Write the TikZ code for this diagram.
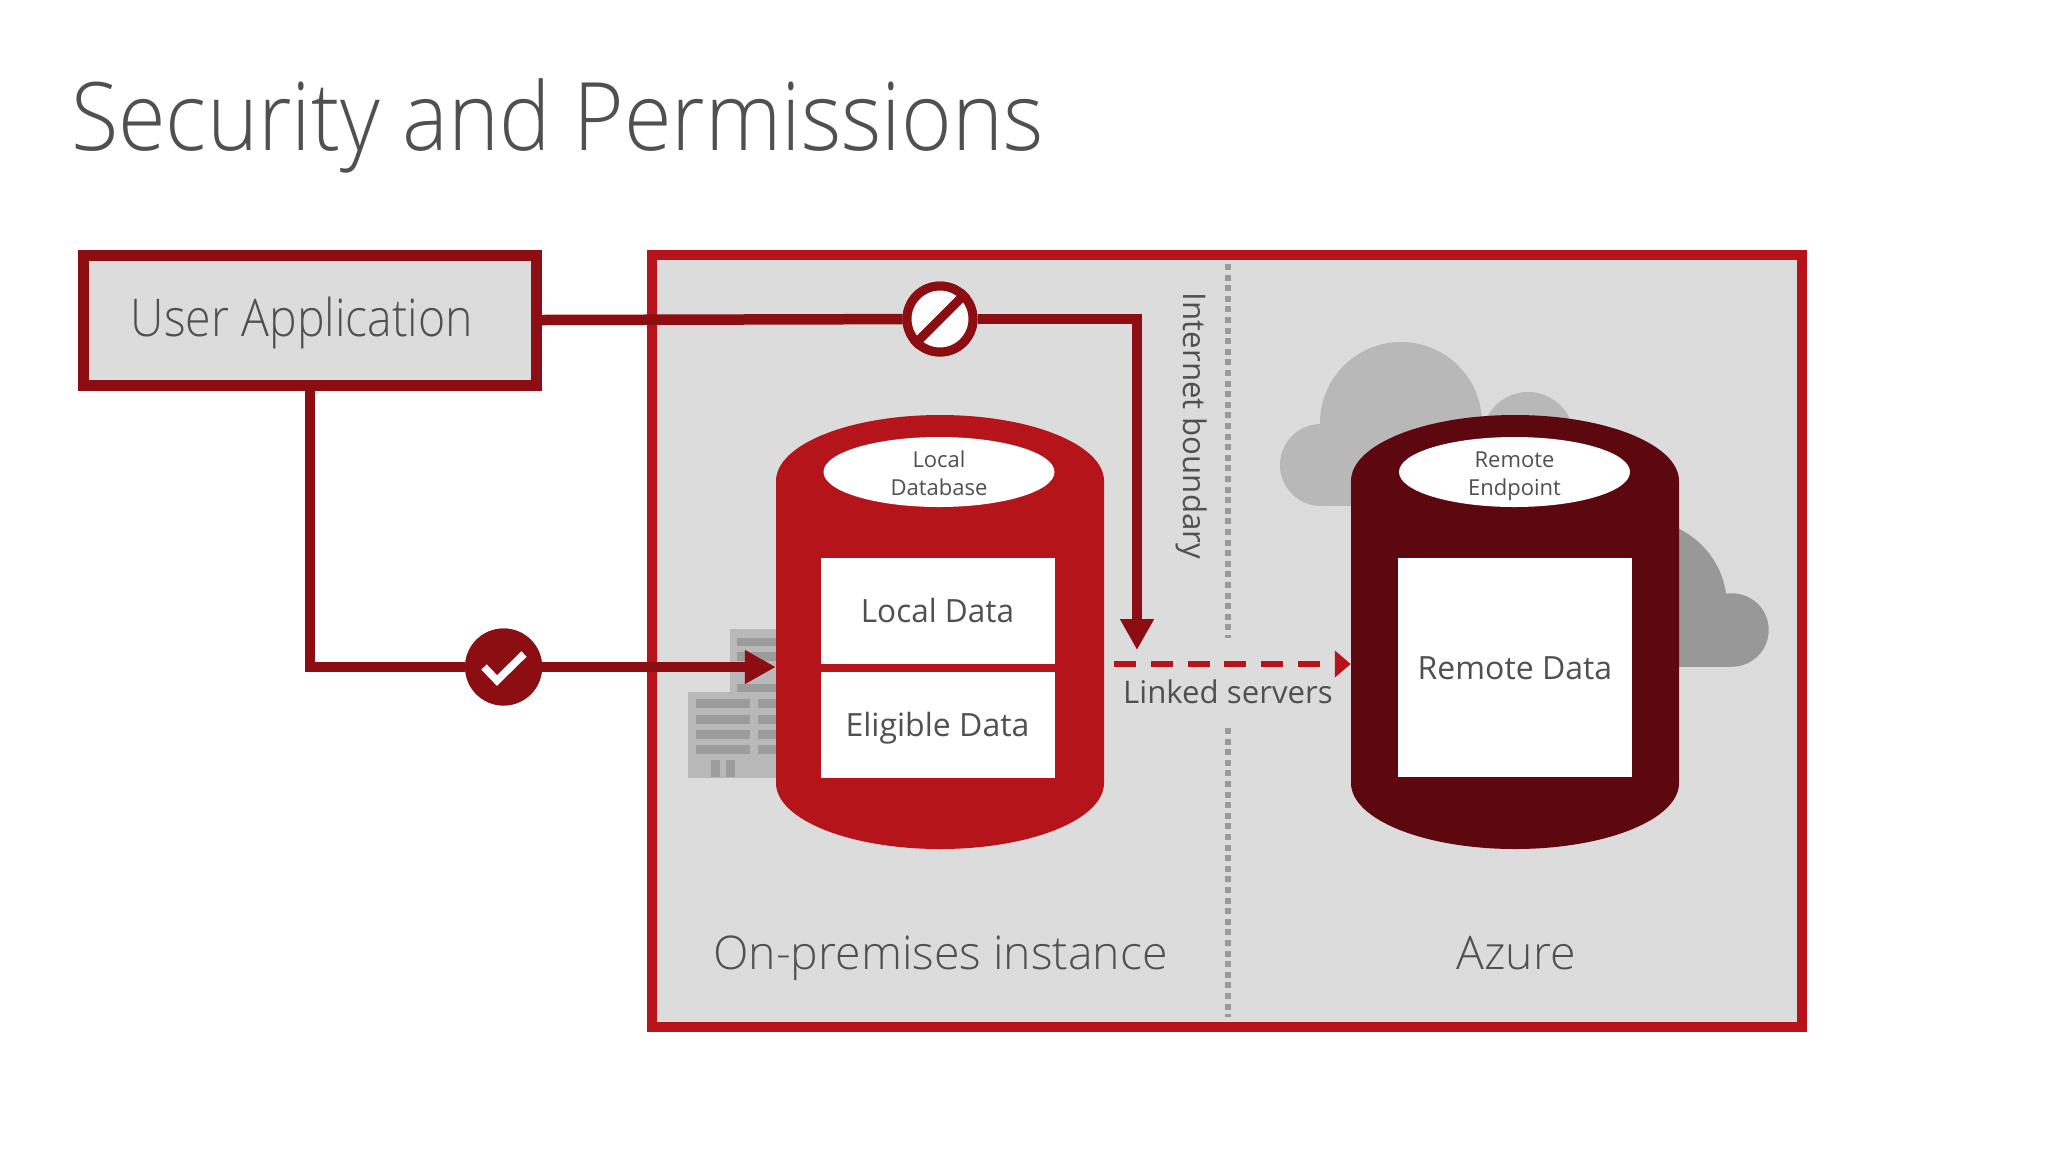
\documentclass[tikz,border=0pt]{standalone}
\usepackage{fontspec}
\setmainfont{Open Sans Light}
\newfontfamily\regf{Open Sans}
\usetikzlibrary{arrows.meta,shapes.geometric}
\definecolor{frame}{HTML}{B8131B}
\definecolor{dkred}{HTML}{8C0E12}
\definecolor{cylone}{HTML}{B5141A}
\definecolor{cyltwo}{HTML}{5C080E}
\definecolor{panel}{HTML}{DDDCDD}
\definecolor{txt}{HTML}{505050}
\definecolor{cloudl}{HTML}{B8B8B8}
\definecolor{cloudd}{HTML}{989898}
\definecolor{bldg}{HTML}{B9B9B9}
\definecolor{bldgw}{HTML}{9C9C9C}
\definecolor{dots}{HTML}{9A9A9A}
\newcommand{\fsz}[1]{\fontsize{#1}{#1}\selectfont}
\tikzset{
  txtbase/.style={inner sep=0pt,text=txt},
  reg/.style={txtbase,font=\regf\fsz{#1}},
  lgt/.style={txtbase,font=\fsz{#1}},
  databox/.style={fill=white,inner sep=0pt,minimum width=234pt,text=txt,font=\regf\fsz{32},text height=23pt,text depth=0pt},
  capsule/.style={ellipse,fill=white,inner sep=0pt,minimum width=231pt,minimum height=70pt},
  captext/.style={txtbase,align=center,font=\regf\fontsize{22}{27.5}\selectfont},
  conn/.style={draw=dkred,line width=10.5pt,miter limit=10},
  boundary/.style={draw=dots,line width=6pt,dash pattern=on 6pt off 4.6pt},
}
\begin{document}
\begin{tikzpicture}[x=1pt,y=-1pt]
\useasboundingbox (0,0) rectangle (2048,1152);
\fill[white] (0,0) rectangle (2048,1152);
% title
\node[lgt=94.6,anchor=base west] (title) at (71,150) {\scalebox{0.915}[1]{Security and Permissions}};
% frame
\node[draw=frame,line width=10.5pt,fill=panel,inner sep=0pt,minimum width=1150pt,minimum height=772pt] (frame) at (1227,641) {};
% clouds
\fill[cloudl] (1401,423) circle[radius=81pt];
\fill[cloudl] (1321,465) circle[radius=41pt];
\fill[cloudl] (1528,438) circle[radius=46pt];
\fill[cloudl] (1321,440) rectangle (1560,506);
\begin{scope}
\clip (1600,500) rectangle (1800,666.5);
\fill[cloudd] (1641,606) circle[radius=86pt];
\end{scope}
\fill[cloudd] (1732,630) circle[radius=36.7pt];
\fill[cloudd] (1660,620) rectangle (1732,666.5);
% building
\fill[bldg] (730,628.5) rectangle (776,692);
\fill[bldg] (688,692) rectangle (776,777.5);
\fill[bldgw] (736.5,638) rectangle (776,646);
\fill[bldgw] (736.5,652) rectangle (776,661);
\fill[bldgw] (736.5,684) rectangle (776,692);
\foreach \yy in {699,715,730,745}{
  \fill[bldgw] (696,\yy) rectangle (750,\yy+8.5);
  \fill[bldgw] (758,\yy) rectangle (776,\yy+8.5);
}
\fill[bldgw] (710.6,760) rectangle (719.5,777);
\fill[bldgw] (726,760) rectangle (735,777);
% boundary
\coordinate (ba) at (1227.5,264);
\coordinate (bb) at (1227.5,638);
\coordinate (bc) at (1227.5,728);
\coordinate (bd) at (1227.5,1017);
\draw[boundary] (ba) -- (bb);
\draw[boundary] (bc) -- (bd);
% user box
\node[draw=dkred,line width=11pt,fill=panel,inner sep=0pt,minimum width=453pt,minimum height=130pt] (user) at (310,320) {};
\node[lgt=52] (usertxt) at (302,323) {\scalebox{0.893}[1]{User Application}};
% cylinders
\node[inner sep=0pt,minimum width=328pt,minimum height=434pt] (localdb) at (940,632) {};
\node[inner sep=0pt,minimum width=328pt,minimum height=434pt] (remotedb) at (1515,632) {};
\fill[cylone] (776,481) arc[start angle=180,end angle=0,x radius=164pt,y radius=66pt] -- (1104,783) arc[start angle=0,end angle=-180,x radius=164pt,y radius=66pt] -- cycle;
\fill[cyltwo] (1351,481) arc[start angle=180,end angle=0,x radius=164pt,y radius=66pt] -- (1679,783) arc[start angle=0,end angle=-180,x radius=164pt,y radius=66pt] -- cycle;
\node[capsule] (capl) at (939,472) {};
\node[capsule] (capr) at (1514.5,472) {};
\node[captext] (capltxt) at (939,476) {\strut Local\\\strut Database};
\node[captext] (caprtxt) at (1514.5,476) {\strut Remote\\\strut Endpoint};
\node[databox,minimum height=106.5pt] (ldata) at (937.5,611.2) {\scalebox{0.985}[1]{Local Data}};
\node[databox,minimum height=106pt] (edata) at (937.5,724.5) {Eligible Data};
\node[databox,minimum height=219.5pt] (rdata) at (1515,667.7) {Remote Data};
% connectors
\node[circle,fill=dkred,inner sep=0pt,minimum size=77pt] (okmark) at (503.6,667) {};
\node[circle,draw=dkred,fill=white,line width=9pt,inner sep=0pt,minimum size=66pt] (noway) at (940,319) {};
\coordinate (blockend) at (1137,650);
\coordinate (okcorner) at (user.south |- okmark);
\coordinate (linkstart) at (1114,664);
\coordinate (linkend) at (remotedb.west |- linkstart);
\draw[conn] (user.south) -- (okcorner) -- (okmark);
\draw[conn,-{Triangle[length=31pt,width=32pt]}] (okmark) -- (localdb.west |- okmark);
\draw[conn] (user.east) -- (noway);
\draw[conn,-{Triangle[length=31pt,width=32pt]}] (noway) -| (blockend);
\draw[draw=frame,line width=5.5pt,dash pattern=on 22pt off 14.8pt,-{Triangle[length=16pt,width=26pt]}] (linkstart) -- (linkend);
% marks redrawn over lines
\node[circle,fill=dkred,inner sep=0pt,minimum size=77pt] at (okmark) {};
\draw[white,line width=7.5pt,miter limit=10] (484,667) -- (497,680.5) -- (524,654);
\node[circle,draw=dkred,fill=white,line width=9pt,inner sep=0pt,minimum size=66pt] at (noway) {};
\draw[dkred,line width=9pt] (noway.225) -- (noway.45);
% labels
\node[reg=31.2] (links) at (1228,692) {Linked servers};
\node[reg=31.2,rotate=-90] (inet) at (1192,426) {Internet boundary};
\node[lgt=46.4,anchor=base] (onprem) at (940.5,969.5) {On-premises instance};
\node[lgt=46.4,anchor=base] (azure) at (1516,969.5) {Azure};
\end{tikzpicture}
\end{document}
